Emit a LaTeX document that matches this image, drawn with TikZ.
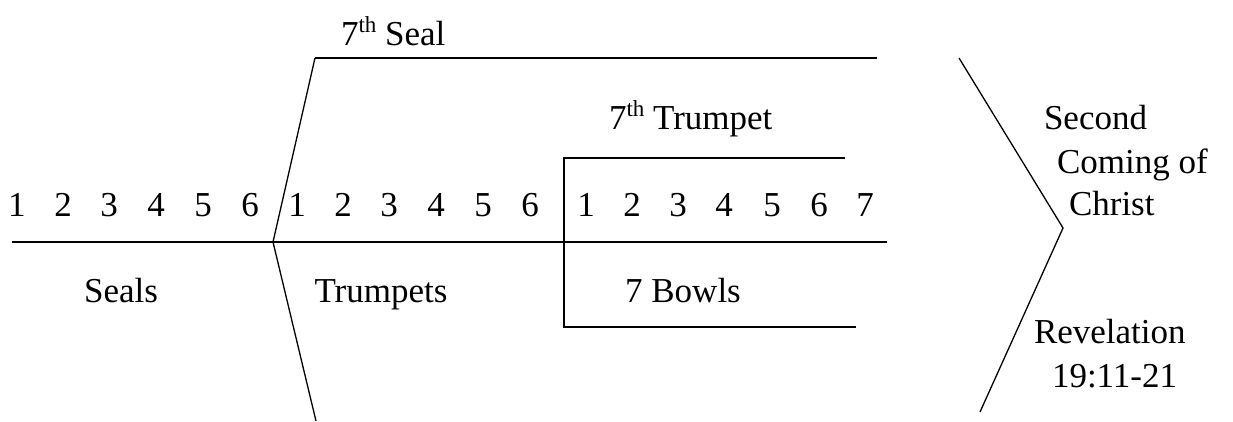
\documentclass[tikz,border=0pt]{standalone}
\usepackage{fontspec}
\setmainfont{Liberation Serif}
\newcommand{\ordth}{\raisebox{0.36em}{\fontsize{23}{23}\selectfont th}}
\begin{document}
\begin{tikzpicture}[x=1pt,y=-1pt,
  txt/.style={inner sep=0pt,outer sep=0pt,font=\fontsize{35}{42}\selectfont},
  num/.style={txt,anchor=base},
  lbl/.style={txt,anchor=base west},
  rule/.style={line width=1.6pt},
  slant/.style={line width=1.3pt}]
\useasboundingbox (0,0) rectangle (1233,421);
\fill[white] (0,0) rectangle (1233,421);

% key points of the outline
\coordinate (mainL) at (12,242);
\coordinate (mainR) at (887,242);
\coordinate (v1) at (273,242);
\coordinate (sealTop) at (315,58);
\coordinate (sealTopR) at (877,58);
\coordinate (sealLow) at (316,421);
\coordinate (trTop) at (564,158);
\coordinate (trTopR) at (845,158);
\coordinate (trBot) at (564,327);
\coordinate (trBotR) at (856,327);
\coordinate (chTop) at (959,58);
\coordinate (chTip) at (1063,228);
\coordinate (chBot) at (980,412);

% time line and brackets
\draw[rule] (mainL) -- (mainR);
\draw[slant] (sealLow) -- (v1) -- (sealTop);
\draw[rule] (sealTop) -- (sealTopR);
\draw[rule] (trTopR) -- (trTop) -- (trBot) -- (trBotR);
\draw[slant] (chTop) -- (chTip) -- (chBot);

% seal numbers
\foreach \n/\x in {1/17,2/63,3/109,4/156,5/203,6/250}
  \node[num] (s\n) at (\x,216) {\n};
% trumpet numbers
\foreach \n/\x in {1/297,2/343,3/389,4/436,5/483,6/530}
  \node[num] (t\n) at (\x,216) {\n};
% bowl numbers
\foreach \n/\x in {1/586,2/632,3/678,4/724,5/772,6/819,7/865}
  \node[num] (b\n) at (\x,216) {\n};

% labels
\node[lbl] (seal7) at (341,45) {7\ordth{} Seal};
\node[lbl] (trump7) at (609,129) {7\ordth{} Trumpet};
\node[num] (seals) at (121,302) {Seals};
\node[num] (trumpets) at (381,302) {Trumpets};
\node[num] (bowls) at (683,302) {7 Bowls};
\node[lbl] (second) at (1044,129) {Second};
\node[lbl] (coming) at (1057,173) {Coming of};
\node[lbl] (christ) at (1069,215) {Christ};
\node[lbl] (rev) at (1034,343) {Revelation};
\node[lbl] (verse) at (1052,387) {19:11-21};
\end{tikzpicture}
\end{document}
